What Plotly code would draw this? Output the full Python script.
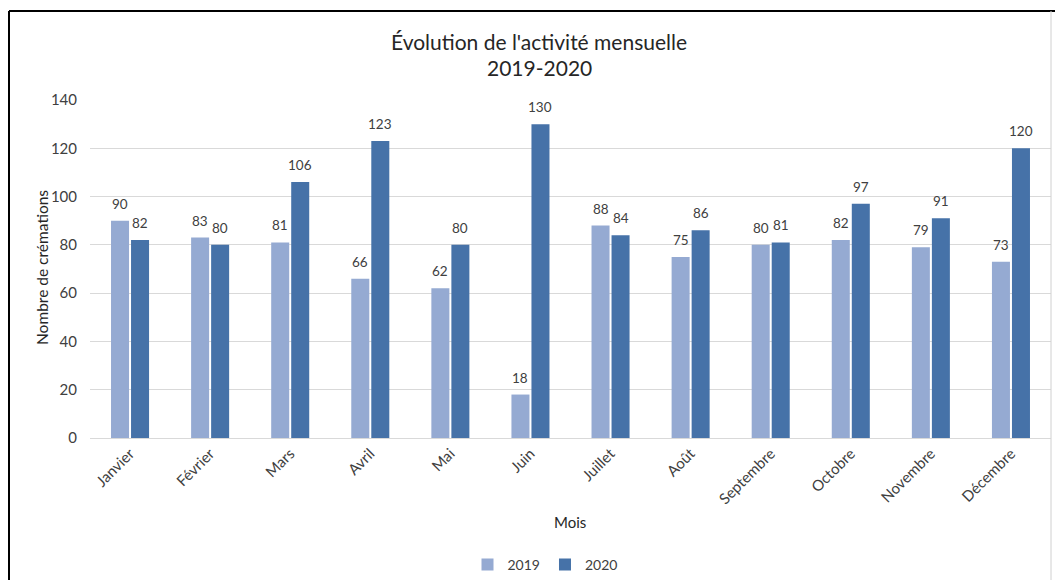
import plotly.graph_objects as go

mois = ["Janvier", "Février", "Mars", "Avril", "Mai", "Juin", "Juillet",
        "Août", "Septembre", "Octobre", "Novembre", "Décembre"]
v2019 = [90, 83, 81, 66, 62, 18, 88, 75, 80, 82, 79, 73]
v2020 = [82, 80, 106, 123, 80, 130, 84, 86, 81, 97, 91, 120]

c2019 = "#95AAD2"
c2020 = "#4672A8"
FONT = "Lato"
txt = "#404040"

fig = go.Figure()
fig.add_trace(go.Bar(name="2019", x=mois, y=v2019, marker=dict(color=c2019, line=dict(width=0))))
fig.add_trace(go.Bar(name="2020", x=mois, y=v2020, marker=dict(color=c2020, line=dict(width=0))))

h = 338.0
def py(pix):
    return (438 - pix) / h
def px(pix):
    return (pix - 90) / 961.0

annotations = []
for xs, vals in ((-10, v2019), (10, v2020)):
    for m, v in zip(mois, vals):
        annotations.append(dict(x=m, y=v, xref="x", yref="y", text=str(v), showarrow=False,
                                xshift=xs, yshift=7, yanchor="bottom",
                                font=dict(family=FONT, size=13.5, color=txt)))

annotations += [
    dict(text="Évolution de l'activité mensuelle", x=px(539), y=py(41), xref="paper", yref="paper",
         showarrow=False, yanchor="middle", font=dict(family=FONT, size=21, color="#262626")),
    dict(text="2019-2020", x=px(539), y=py(68), xref="paper", yref="paper",
         showarrow=False, yanchor="middle", font=dict(family=FONT, size=21, color="#262626")),
    dict(text="Mois", x=px(570), y=py(522), xref="paper", yref="paper", showarrow=False,
         yanchor="middle", font=dict(family=FONT, size=15, color="#262626")),
    dict(text="Nombre de crémations", x=px(42), y=py(268), xref="paper", yref="paper",
         showarrow=False, textangle=-90, xanchor="center", yanchor="middle",
         font=dict(family=FONT, size=15.5, color="#262626")),
]

fig.update_layout(
    width=1055, height=580,
    margin=dict(l=90, r=4, t=100, b=142, autoexpand=False),
    paper_bgcolor="white", plot_bgcolor="white",
    barmode="group", bargap=0.5, bargroupgap=0.1,
    font=dict(family=FONT, size=13, color=txt),
    showlegend=True,
    legend=dict(orientation="h", x=px(545), xanchor="center", y=py(565), yanchor="middle",
                font=dict(family=FONT, size=14, color=txt), itemwidth=30,
                traceorder="normal"),
    annotations=annotations,
    xaxis=dict(tickangle=-45, showgrid=False, showline=True, linecolor="#D9D9D9",
               ticks="", automargin=False, tickfont=dict(family=FONT, size=15, color=txt)),
    yaxis=dict(range=[0, 140], dtick=20, showgrid=True, gridcolor="#D9D9D9",
               zeroline=False, showline=False, ticks="", ticklabelstandoff=12, automargin=False,
               tickfont=dict(family=FONT, size=15, color=txt)),
    shapes=[
        dict(type="line", xref="paper", yref="paper", x0=px(9), x1=px(9),
             y0=py(11), y1=py(600), line=dict(color="black", width=2)),
        dict(type="line", xref="paper", yref="paper", x0=px(9), x1=px(1060),
             y0=py(11), y1=py(11), line=dict(color="black", width=2)),
        dict(type="line", xref="paper", yref="paper", x0=px(1051), x1=px(1051),
             y0=py(11), y1=py(600), line=dict(color="#D0D0D0", width=1)),
    ],
)

fig.write_html("out.html", config={"displayModeBar": False},
               post_script="document.body.style.margin='0';document.body.style.overflow='hidden';")
